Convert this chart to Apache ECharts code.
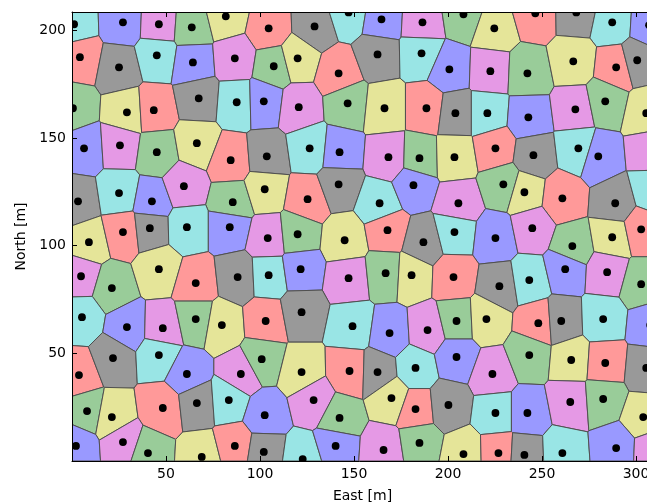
<!DOCTYPE html>
<html>
<head>
<meta charset="utf-8">
<script src="https://cdn.jsdelivr.net/npm/echarts@6/dist/echarts.min.js"></script>
<style>
  html, body { margin: 0; padding: 0; background: #ffffff; }
  #chart { width: 647px; height: 504px; }
</style>
</head>
<body>
<div id="chart"></div>
<script>
// Site positions (East, North) in metres, one array per row of sites, north to south.
const rowN200 = [[1.1,202.8],[27.1,203.7],[46.2,202.8],[63.7,201.4],[81.8,206.5],[104.6,200.9],[129.0,201.8],[147.1,208.3],[164.6,205.1],[186.4,203.7],[208.2,207.4],[224.6,200.9],[246.4,207.9],[268.2,208.3],[287.3,203.7],[306.9,202.3]];
const rowN180 = [[4.2,187.5],[25.0,182.8],[45.1,188.4],[64.3,185.1],[86.6,187.0],[107.3,183.3],[120.0,187.0],[141.8,180.0],[162.5,188.8],[185.9,189.3],[200.7,181.9],[222.5,181.0],[242.2,180.0],[266.6,185.6],[289.4,182.8],[300.6,186.1]];
const rowN160 = [[0.5,163.8],[29.2,161.9],[43.5,162.9],[67.4,168.4],[87.6,166.6],[102.0,167.0],[120.6,164.3],[146.6,166.1],[166.2,163.8],[188.5,163.8],[203.9,161.5],[220.9,161.5],[242.7,159.6],[267.7,163.3],[283.6,167.0],[305.4,161.5]];
const rowN140 = [[6.4,145.2],[25.5,146.6],[45.1,143.4],[66.4,147.6],[84.4,139.7],[103.6,141.5],[126.4,145.2],[142.3,143.4],[168.3,141.1],[184.8,140.6],[203.4,141.1],[225.2,145.2],[245.4,142.0],[269.3,145.2],[279.9,141.5],[308.0,144.3]];
const rowN120 = [[3.2,120.6],[25.0,124.4],[42.5,120.6],[59.5,127.6],[85.5,120.2],[102.5,126.2],[125.3,121.6],[141.8,128.5],[163.6,119.7],[181.6,128.1],[205.5,119.7],[229.4,128.5],[240.6,124.8],[260.8,122.0],[288.9,119.7],[308.5,125.7]];
const rowN100 = [[9.0,101.6],[27.1,106.3],[41.4,108.1],[61.1,108.6],[83.9,108.6],[104.1,103.5],[120.0,105.3],[145.0,102.5],[167.8,107.2],[186.9,101.6],[203.4,106.3],[225.2,103.5],[244.8,108.1],[266.1,99.8],[287.3,103.9],[302.7,107.6]];
const rowN80  = [[4.8,85.8],[21.2,80.3],[46.2,89.1],[65.8,82.6],[88.1,85.4],[104.6,86.3],[121.6,89.1],[147.1,84.9],[166.8,87.2],[180.6,86.3],[202.9,85.4],[227.3,81.2],[243.2,84.0],[262.3,89.1],[284.6,87.7],[302.7,82.1]];
const rowN60  = [[5.3,66.8],[29.2,62.2],[48.3,61.7],[65.8,65.9],[79.7,63.1],[103.0,65.0],[122.1,69.1],[149.2,62.6],[168.9,59.4],[189.1,60.8],[204.5,65.0],[220.4,65.9],[248.0,64.0],[260.2,65.0],[282.5,65.9],[307.5,63.1]];
const rowN40  = [[3.7,39.9],[21.8,47.8],[46.2,49.2],[61.1,40.4],[89.8,40.4],[100.9,47.3],[122.1,41.3],[147.6,41.8],[162.5,41.3],[182.7,43.2],[204.5,48.3],[223.6,40.4],[243.2,49.2],[265.5,46.9],[283.6,45.5],[305.4,43.2]];
const rowN20  = [[8.0,23.2],[21.2,20.4],[48.3,24.6],[66.4,26.9],[83.4,28.3],[102.5,21.3],[128.5,28.3],[142.3,20.0],[169.9,29.2],[182.7,24.1],[200.2,26.0],[225.2,22.3],[242.2,22.3],[265.0,27.4],[282.5,28.8],[303.8,20.4]];
const rowN0   = [[2.1,7.0],[27.1,8.8],[40.4,3.7],[69.0,1.9],[86.6,7.0],[102.0,4.2],[122.7,0.9],[140.2,7.0],[165.7,5.1],[184.8,8.4],[208.2,3.2],[226.8,3.7],[240.6,2.8],[260.8,3.7],[289.4,6.0],[308.5,5.1]];

const siteRows = [rowN200, rowN180, rowN160, rowN140, rowN120, rowN100, rowN80, rowN60, rowN40, rowN20, rowN0];

// Axis extents and tick spacing (metres)
const eastRange = [0, 309];
const northRange = [0, 208.5];
const tickStep = 50;

// Classic colour cycle b, g, r, c, m, y, k at 40% opacity over white
const cellColors = ['#9999ff', '#99cc99', '#ff9999', '#99e5e5', '#e599e5', '#e5e599', '#999999'];

// Flatten the rows; sites are numbered column by column, south to north,
// and each cell takes the next colour of the cycle in that order.
const nRows = siteRows.length;
const sites = [];
siteRows.forEach((row, r) => {
  row.forEach((p, c) => {
    const order = c * nRows + (nRows - 1 - r);
    sites.push({ x: p[0], y: p[1], color: cellColors[order % cellColors.length] });
  });
});

// Keep the part of a polygon where a*x + b*y <= k
function clipHalfPlane(poly, a, b, k) {
  const out = [];
  for (let i = 0; i < poly.length; i++) {
    const P = poly[i], Q = poly[(i + 1) % poly.length];
    const dp = a * P[0] + b * P[1] - k;
    const dq = a * Q[0] + b * Q[1] - k;
    if (dp <= 0) out.push(P);
    if ((dp < 0 && dq > 0) || (dp > 0 && dq < 0)) {
      const t = dp / (dp - dq);
      out.push([P[0] + (Q[0] - P[0]) * t, P[1] + (Q[1] - P[1]) * t]);
    }
  }
  return out;
}

// Voronoi cell of each site, bounded by the plotting window
const cells = sites.map((s, i) => {
  let poly = [[eastRange[0], northRange[0]], [eastRange[1], northRange[0]],
              [eastRange[1], northRange[1]], [eastRange[0], northRange[1]]];
  sites.forEach((o, j) => {
    if (j === i || poly.length === 0) return;
    const a = o.x - s.x, b = o.y - s.y;
    const k = a * (s.x + o.x) / 2 + b * (s.y + o.y) / 2;
    poly = clipHalfPlane(poly, a, b, k);
  });
  return poly;
});

const siteData = sites.map((s, i) => [s.x, s.y, i]);

const font = 'DejaVu Sans, sans-serif';
const axisCommon = {
  type: 'value',
  interval: tickStep,
  splitLine: { show: false },
  axisLine: { show: true, onZero: false, lineStyle: { color: '#000', width: 1 } },
  axisTick: { show: true, inside: true, length: 5, lineStyle: { color: '#000', width: 1 } },
  z: 10
};

const chart = echarts.init(document.getElementById('chart'), null, { renderer: 'canvas' });
chart.setOption({
  animation: false,
  backgroundColor: '#ffffff',
  grid: { left: 72, top: 12, width: 581, height: 449, outerBoundsMode: 'none', containLabel: false },
  xAxis: [
    Object.assign({}, axisCommon, {
      position: 'bottom', min: eastRange[0], max: eastRange[1],
      name: 'East [m]', nameLocation: 'middle', nameGap: 28,
      nameTextStyle: { fontFamily: font, fontSize: 14, color: '#000' },
      axisLabel: { showMinLabel: false, showMaxLabel: false, margin: 6, fontFamily: font, fontSize: 14, color: '#000' }
    }),
    Object.assign({}, axisCommon, {
      position: 'top', min: eastRange[0], max: eastRange[1],
      axisLabel: { show: false }
    })
  ],
  yAxis: [
    Object.assign({}, axisCommon, {
      position: 'left', min: northRange[0], max: northRange[1],
      name: 'North [m]', nameLocation: 'middle', nameGap: 43, nameRotate: 90,
      nameTextStyle: { fontFamily: font, fontSize: 14, color: '#000' },
      axisLabel: { showMinLabel: false, showMaxLabel: false, margin: 6, fontFamily: font, fontSize: 14, color: '#000' }
    }),
    Object.assign({}, axisCommon, {
      position: 'right', min: northRange[0], max: northRange[1],
      axisLabel: { show: false }
    })
  ],
  series: [
    {
      name: 'cells',
      type: 'custom',
      xAxisIndex: 0, yAxisIndex: 0,
      clip: true,
      data: siteData,
      encode: { x: 0, y: 1 },
      renderItem: function (params, api) {
        const idx = api.value(2);
        const pts = cells[idx].map(p => api.coord(p));
        return {
          type: 'polygon',
          shape: { points: pts },
          style: { fill: sites[idx].color, stroke: '#505050', lineWidth: 1 }
        };
      },
      z: 2
    },
    {
      name: 'sites',
      type: 'custom',
      xAxisIndex: 0, yAxisIndex: 0,
      clip: true,
      data: siteData,
      encode: { x: 0, y: 1 },
      renderItem: function (params, api) {
        const c = api.coord([api.value(0), api.value(1)]);
        return {
          type: 'circle',
          shape: { cx: c[0], cy: c[1], r: 3.9 },
          style: { fill: '#000000' }
        };
      },
      z: 3
    }
  ]
});
</script>
</body>
</html>
